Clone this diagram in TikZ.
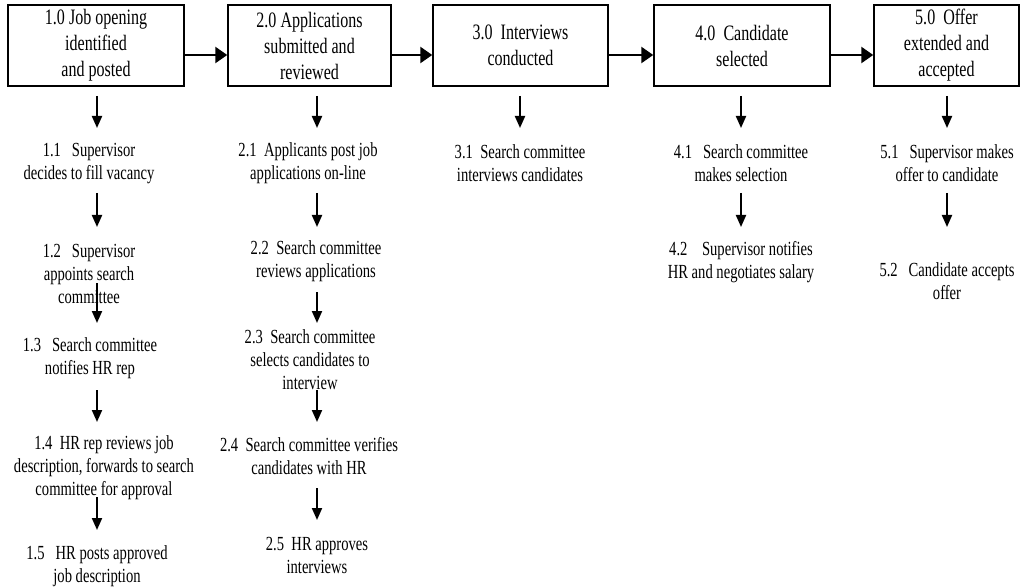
\documentclass[tikz,border=0pt]{standalone}
\usepackage{fontspec}
\setmainfont[FakeStretch=0.73]{Liberation Serif}
\usetikzlibrary{arrows.meta}
\newdimen\pxu \pxu=0.75pt
\begin{document}
\begin{tikzpicture}[x=0.75pt,y=-0.75pt,
  boxnode/.style={draw,line width=1.1pt,inner sep=0pt,align=center,minimum height=81\pxu,font=\fontsize{16.5}{19.5}\selectfont},
  subnode/.style={inner sep=0pt,align=center,font=\fontsize{15}{17.25}\selectfont},
  harrow/.style={line width=1.9pt,-{Triangle[length=9pt,width=12pt]}},
  varrow/.style={line width=1.5pt,-{Triangle[length=9pt,width=7.5pt]}}]
\useasboundingbox (0,0) rectangle (1021,588);

% main boxes
\node[boxnode,minimum width=176\pxu] (b1) at (96,45.5) {1.0 Job opening\\identified\\and posted};
\node[boxnode,minimum width=163\pxu] (b2) at (309.5,45.5) {2.0 Applications\\submitted and\\reviewed};
\node[boxnode,minimum width=175\pxu] (b3) at (520.5,45.5) {3.0\ \ Interviews\\conducted};
\node[boxnode,minimum width=176\pxu] (b4) at (742,45.5) {4.0\ \ Candidate\\selected};
\node[boxnode,minimum width=145\pxu] (b5) at (946.5,45.5) {5.0\ \ Offer\\extended and\\accepted};

\draw[harrow] (b1.east |- 0,55) -- (b2.west |- 0,55);
\draw[harrow] (b2.east |- 0,55) -- (b3.west |- 0,55);
\draw[harrow] (b3.east |- 0,55) -- (b4.west |- 0,55);
\draw[harrow] (b4.east |- 0,55) -- (b5.west |- 0,55);

% column 1
\node[subnode] (n11) at (89,163.5) {1.1\ \ \ Supervisor\\decides to fill vacancy};
\node[subnode] (n12) at (89,274) {1.2\ \ \ Supervisor\\appoints search\\committee};
\node[subnode] (n13) at (90,358.5) {1.3\ \ \ Search committee\\notifies HR rep};
\node[subnode] (n14) at (104,468) {1.4\ \ HR rep reviews job\\description, forwards to search\\committee for approval};
\node[subnode] (n15) at (97,566) {1.5\ \ \ HR posts approved\\job description};

% column 2
\node[subnode] (n21) at (308,163.5) {2.1\ \ Applicants post job\\applications on-line};
\node[subnode] (n22) at (316,261) {2.2\ \ Search committee\\reviews applications};
\node[subnode] (n23) at (310,360) {2.3\ \ Search committee\\selects candidates to\\interview};
\node[subnode] (n24) at (309,456.5) {2.4\ \ Search committee verifies\\candidates with HR};
\node[subnode] (n25) at (317,555) {2.5\ \ HR approves\\interviews};

% column 3
\node[subnode] (n31) at (520,163.5) {3.1\ \ Search committee\\interviews candidates};

% column 4
\node[subnode] (n41) at (741,163.5) {4.1\ \ \ Search committee\\makes selection};
\node[subnode] (n42) at (741,262.5) {4.2\ \ \ \ Supervisor notifies\\HR and negotiates salary};

% column 5
\node[subnode] (n51) at (947,163.5) {5.1\ \ \ Supervisor makes\\offer to candidate};
\node[subnode] (n52) at (947,281.5) {5.2\ \ \ Candidate accepts\\offer};

% arrow end points
\coordinate (a1a) at (97,96);  \coordinate (a1b) at (97,128);
\coordinate (a1c) at (97,193); \coordinate (a1d) at (97,227);
\coordinate (a1e) at (97,283); \coordinate (a1f) at (97,323);
\coordinate (a1g) at (97,390); \coordinate (a1h) at (97,422);
\coordinate (a1i) at (97,497); \coordinate (a1j) at (97,530);

\coordinate (a2a) at (317,96);  \coordinate (a2b) at (317,128);
\coordinate (a2c) at (317,193); \coordinate (a2d) at (317,227);
\coordinate (a2e) at (317,292); \coordinate (a2f) at (317,323);
\coordinate (a2g) at (317,390); \coordinate (a2h) at (317,422);
\coordinate (a2i) at (317,488); \coordinate (a2j) at (317,520);

\coordinate (a3a) at (520,96);  \coordinate (a3b) at (520,128);

\coordinate (a4a) at (741,96);  \coordinate (a4b) at (741,128);
\coordinate (a4c) at (741,193); \coordinate (a4d) at (741,227);

\coordinate (a5a) at (947,96);  \coordinate (a5b) at (947,128);
\coordinate (a5c) at (947,193); \coordinate (a5d) at (947,227);

\foreach \c in {1,2}{
  \draw[varrow] (a\c a) -- (a\c b);
  \draw[varrow] (a\c c) -- (a\c d);
  \draw[varrow] (a\c e) -- (a\c f);
  \draw[varrow] (a\c g) -- (a\c h);
  \draw[varrow] (a\c i) -- (a\c j);
}
\draw[varrow] (a3a) -- (a3b);
\draw[varrow] (a4a) -- (a4b);
\draw[varrow] (a4c) -- (a4d);
\draw[varrow] (a5a) -- (a5b);
\draw[varrow] (a5c) -- (a5d);
\end{tikzpicture}
\end{document}
